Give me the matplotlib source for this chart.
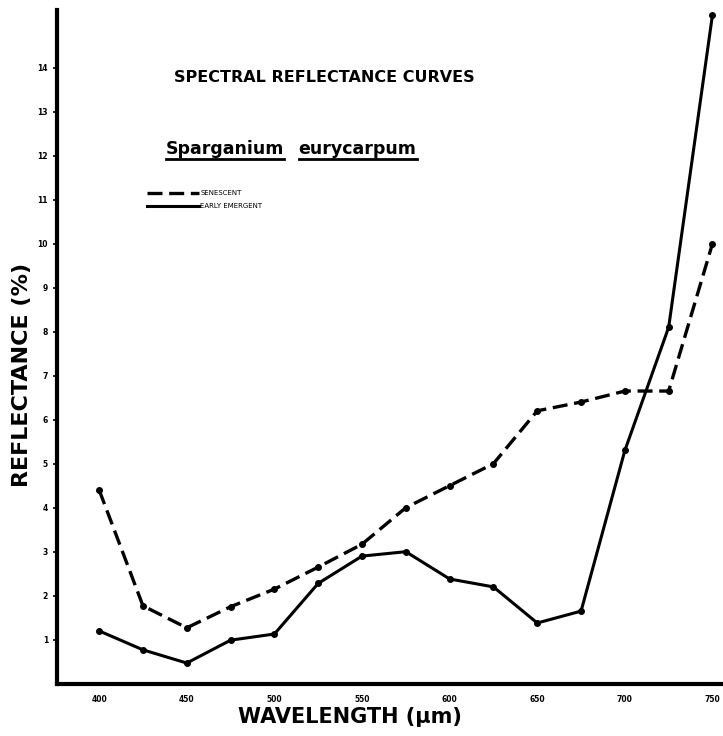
import numpy as np
import matplotlib
matplotlib.use('Agg')
import matplotlib.pyplot as plt
from matplotlib.lines import Line2D

# wavelength (nm) and reflectance (%)
wavelength = [400, 425, 450, 475, 500, 525, 550, 575, 600, 625, 650, 675, 700, 725, 750]
senescent = [4.4, 1.77, 1.27, 1.75, 2.15, 2.65, 3.17, 4.0, 4.5, 5.0, 6.2, 6.4, 6.65, 6.65, 10.0]
early_emergent = [1.2, 0.77, 0.47, 0.99, 1.13, 2.28, 2.9, 3.0, 2.38, 2.2, 1.38, 1.65, 5.3, 8.1, 15.2]
xticks = [400, 450, 500, 550, 600, 650, 700, 750]
yticks = list(range(1, 15))
species = ['Sparganium', 'eurycarpum']

plt.rcParams['font.family'] = ['DejaVu Sans']

fig = plt.figure(figsize=(7.23, 7.36), dpi=100)
ax = fig.add_axes([0.079, 0.071, 0.921, 0.915])

ax.plot(wavelength, senescent, color='black', lw=2.4, ls=(0, (4.5, 2)),
        marker='o', ms=4, clip_on=False, label='SENESCENT')
ax.plot(wavelength, early_emergent, color='black', lw=2.2, ls='-',
        marker='o', ms=4, clip_on=False, label='EARLY EMERGENT')

ax.set_xlim(376, 756)
ax.set_ylim(0, 15.3)
ax.set_xticks(xticks)
ax.set_yticks(yticks)
ax.tick_params(axis='both', labelsize=5.5, width=1.2, length=3, direction='out')
for lbl in ax.get_xticklabels() + ax.get_yticklabels():
    lbl.set_fontweight('bold')
ax.tick_params(axis='x', length=0, pad=8)

for side in ['top', 'right']:
    ax.spines[side].set_visible(False)
for side in ['left', 'bottom']:
    ax.spines[side].set_linewidth(3)

ax.set_xlabel('WAVELENGTH (\u00b5m)', fontsize=15, fontweight='bold')
ax.xaxis.set_label_coords(0.44, -0.035)
ax.set_ylabel('REFLECTANCE (%)', fontsize=16, fontweight='bold')
ax.yaxis.set_label_coords(-0.037, 0.458)

ax.text(0.175, 0.90, 'SPECTRAL REFLECTANCE CURVES', transform=ax.transAxes,
        fontsize=11.5, fontweight='bold', va='center')

# species name, each word underlined
fig.canvas.draw()
renderer = fig.canvas.get_renderer()
x0 = 0.163
for word in species:
    t = ax.text(x0, 0.787, word, transform=ax.transAxes, fontsize=12.5,
                fontweight='bold', va='baseline')
    bb = t.get_window_extent(renderer).transformed(ax.transAxes.inverted())
    ax.add_line(Line2D([bb.x0, bb.x1], [0.779, 0.779], transform=ax.transAxes,
                       color='black', lw=2))
    x0 = bb.x1 + 0.022

ax.legend(loc='upper left', bbox_to_anchor=(0.125, 0.742), frameon=False,
          fontsize=5, handlelength=7.5, handletextpad=0.2, labelspacing=1.0,
          markerscale=0)

fig.savefig('out.png', dpi=100)
